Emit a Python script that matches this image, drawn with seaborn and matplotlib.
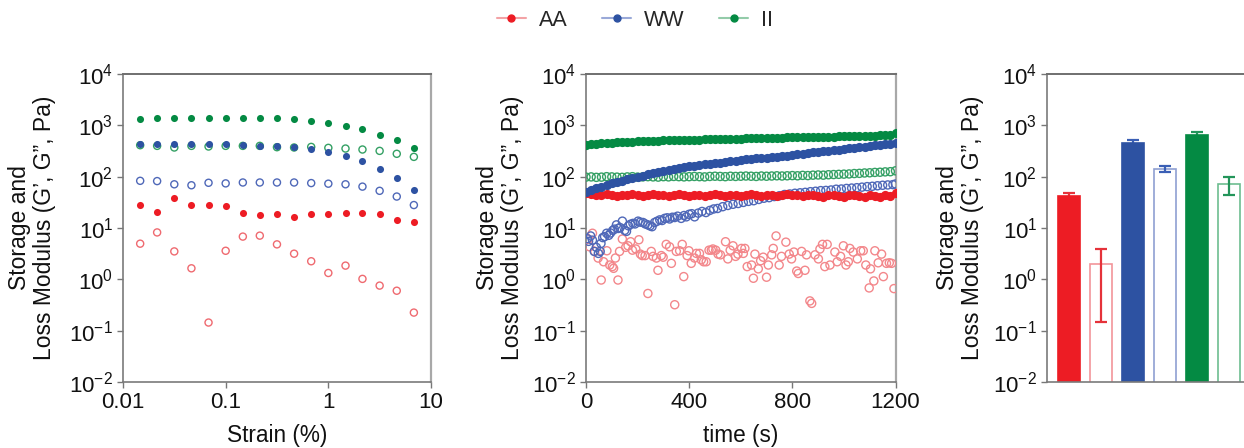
import matplotlib
matplotlib.use("Agg")
import matplotlib.pyplot as plt
from matplotlib.lines import Line2D
import seaborn as sns
import pandas as pd

sns.set_style("ticks")
plt.rcParams["font.family"] = ["Liberation Sans", "DejaVu Sans"]
plt.rcParams["mathtext.fontset"] = "custom"
plt.rcParams["mathtext.rm"] = "Liberation Sans"
plt.rcParams["mathtext.it"] = "Liberation Sans:italic"
plt.rcParams["mathtext.bf"] = "Liberation Sans:bold"
plt.rcParams["mathtext.default"] = "regular"

# ---------------- data ----------------
groups = ["AA", "WW", "II"]

# Panel A: strain sweep
strain_pct = [0.0147, 0.0215, 0.0316, 0.0464, 0.0681, 0.1, 0.147, 0.215, 0.316,
              0.464, 0.681, 1.0, 1.47, 2.15, 3.16, 4.64, 6.81]
aa_g1_strain = [28, 20.5, 38, 27.5, 27.5, 27, 20, 18, 18.7, 16.6, 18.7, 18.7, 19.8, 19.3, 18.7, 14.5, 12.9]
aa_g2_strain = [4.95, 8.2, 3.5, 1.64, 0.144, 3.6, 6.8, 7.1, 4.8, 3.16, 2.25, 1.33, 1.85, 1.02, 0.755, 0.60, 0.225]
ww_g1_strain = [435, 430, 430, 435, 442, 435, 423, 404, 393, 370, 343, 300, 255, 200, 144, 94, 55]
ww_g2_strain = [83, 82, 71, 68, 76, 74, 77, 77, 77, 77, 75, 73, 71, 64, 53, 41, 28]
ii_g1_strain = [1330, 1360, 1400, 1400, 1420, 1420, 1420, 1400, 1400, 1340, 1220, 1100, 960, 830, 660, 510, 355]
ii_g2_strain = [410, 398, 370, 398, 387, 398, 398, 398, 375, 370, 380, 364, 353, 338, 318, 279, 243]

# Panel B: time sweep
time_s = [0, 20, 40, 60, 80, 100, 120, 140, 160, 180, 200, 220, 240, 260, 280, 300, 320, 340,
          360, 380, 400, 420, 440, 460, 480, 500, 520, 540, 560, 580, 600, 620, 640, 660, 680,
          700, 720, 740, 760, 780, 800, 820, 840, 860, 880, 900, 920, 940, 960, 980, 1000,
          1020, 1040, 1060, 1080, 1100, 1120, 1140, 1160, 1180, 1200]
ii_g1_time = [415, 426, 434, 446, 451, 461, 465, 473, 476, 483, 486, 492, 494, 500, 502, 507, 509,
              514, 515, 520, 521, 526, 527, 532, 533, 538, 539, 544, 545, 550, 551, 556, 557, 562,
              563, 568, 569, 574, 575, 580, 581, 586, 587, 592, 593, 598, 599, 604, 605, 610, 611,
              616, 617, 622, 623, 628, 629, 634, 636, 642, 705]
ww_g1_time = [50, 55, 60, 64, 69, 74, 79, 84, 89, 95, 100, 105, 111, 117, 123, 129, 135, 141, 148,
              154, 161, 165, 169, 174, 178, 182, 188, 193, 199, 205, 211, 216, 221, 226, 231, 236,
              241, 247, 252, 258, 264, 272, 280, 289, 298, 307, 314, 322, 330, 338, 346, 355, 364,
              374, 384, 396, 405, 415, 425, 436, 452]
aa_g1_time = [47, 45, 44, 43, 45, 44, 42, 44, 43, 45, 44, 42, 43, 45, 44, 43, 42, 44, 45, 43, 42,
              44, 43, 42, 44, 45, 43, 42, 43, 44, 42, 43, 45, 44, 42, 43, 44, 42, 43, 45, 44, 43,
              42, 44, 43, 42, 41, 43, 44, 42, 41, 43, 44, 42, 41, 43, 42, 41, 43, 42, 48]
ii_g2_time = [98, 99, 97, 98, 100, 99, 98, 97, 99, 100, 98, 99, 100, 99, 98, 100, 99, 101, 100, 99,
              100, 101, 100, 99, 101, 102, 101, 100, 102, 101, 102, 103, 102, 101, 103, 102, 103,
              104, 103, 104, 105, 104, 106, 105, 107, 108, 107, 109, 110, 111, 112, 113, 115, 116,
              118, 119, 121, 122, 124, 125, 130]

ww_g2_t = [5, 10, 18, 25, 32, 40, 48, 55, 58, 65, 72, 80, 88, 95, 104, 110, 118, 125, 132, 141,
           150, 157, 165, 172, 182, 190, 202, 210, 221, 230, 240, 248, 256, 266, 275, 286, 295,
           305, 315, 324, 335, 344, 355, 369, 380, 389, 400, 410, 421, 435, 450, 465, 480, 495,
           510, 530, 550, 570, 590, 610, 630, 650, 670, 690, 710, 730, 750, 770, 790, 810, 830,
           850, 870, 890, 910, 930, 950, 970, 990, 1010, 1030, 1050, 1070, 1090, 1110, 1130,
           1150, 1170, 1190, 1200]
ww_g2_v = [6.2, 5.5, 7.0, 5.8, 3.5, 4.2, 3.2, 3.5, 5.0, 6.5, 6.8, 7.9, 7.2, 8.0, 9.0, 9.5, 11.5,
           9.8, 10.2, 13.6, 9.0, 8.6, 11.0, 11.8, 12.3, 12.0, 13.6, 13.0, 12.8, 12.0, 11.5, 11.0,
           10.6, 12.8, 13.5, 14.4, 14.0, 15.4, 15.8, 15.0, 16.2, 16.0, 17.0, 15.4, 17.5, 16.5,
           18.5, 19.0, 16.5, 19.5, 21.0, 20.0, 22.0, 23.5, 24.0, 26.0, 27.5, 29.0, 30.0, 31.5,
           33.0, 34.0, 36.0, 38.0, 39.0, 41.0, 42.5, 45.0, 46.0, 47.5, 48.5, 49.5, 51.0, 52.0,
           53.5, 54.0, 55.0, 57.0, 57.5, 59.0, 60.0, 61.0, 62.5, 64.0, 65.0, 66.5, 68.0, 69.0,
           70.0, 72.0]

aa_g2_t = [8, 14, 25, 34, 47, 59, 68, 81, 92, 102, 107, 114, 124, 130, 141, 154, 163, 173, 180,
           193, 205, 211, 218, 229, 240, 253, 260, 273, 279, 292, 299, 311, 324, 331, 344, 350,
           363, 373, 379, 392, 399, 408, 421, 428, 440, 447, 456, 466, 477, 486, 492, 503, 512,
           521, 541, 550, 559, 570, 580, 589, 603, 610, 616, 625, 642, 649, 655, 668, 677, 687,
           700, 707, 720, 726, 737, 749, 758, 775, 788, 797, 806, 817, 823, 836, 849, 855, 868,
           875, 888, 901, 907, 917, 926, 935, 946, 965, 974, 987, 998, 1008, 1017, 1023, 1036,
           1052, 1065, 1075, 1085, 1098, 1103, 1116, 1120, 1133, 1146, 1153, 1165, 1176, 1185,
           1194]
aa_g2_v = [6.1, 4.3, 7.9, 3.5, 2.6, 0.97, 2.2, 3.6, 1.9, 1.77, 1.64, 2.6, 0.97, 3.5, 6.1, 4.2,
           4.5, 5.4, 3.7, 3.9, 5.9, 3.1, 2.9, 2.9, 0.53, 3.5, 2.8, 2.6, 1.5, 2.9, 2.7, 4.8, 4.3,
           2.05, 0.32, 3.5, 3.6, 4.8, 1.13, 2.9, 3.6, 2.05, 2.6, 3.2, 3.2, 2.4, 2.2, 2.2, 3.7,
           3.7, 3.9, 3.7, 3.1, 3.0, 5.4, 2.5, 3.7, 4.5, 2.8, 3.1, 4.0, 3.2, 4.0, 1.77, 1.9, 1.05,
           3.1, 1.6, 2.3, 2.7, 1.1, 1.9, 3.0, 4.0, 7.0, 1.9, 2.8, 5.3, 3.1, 2.5, 3.4, 1.45, 1.3,
           3.5, 1.5, 3.0, 0.38, 0.34, 3.0, 2.5, 3.9, 4.8, 1.77, 4.8, 1.9, 3.4, 2.2, 2.8, 4.5,
           1.9, 2.2, 4.0, 3.4, 2.5, 3.6, 3.6, 1.9, 0.68, 1.6, 0.93, 3.6, 2.1, 3.1, 1.13, 2.05,
           2.1, 2.05, 0.66]

# Panel C: mean moduli
bar_labels = ["AA G'", "AA G''", "WW G'", "WW G''", "II G'", "II G''"]
bar_values = [42.5, 2.0, 450, 142, 650, 72]
bar_errors = [5, 1.85, 60, 20, 100, 28]

# ---------------- style ----------------
c_red, c_blue, c_green = "#ED1C24", "#2D52A2", "#048A43"
h_red, h_blue, h_green = "#EF6A70", "#4F68B8", "#34A064"
h_red_t = "#F3878B"
bar_face = [c_red, "white", c_blue, "white", c_green, "white"]
bar_edge = [c_red, "#F2959A", c_blue, "#8FA0D2", c_green, "#6DBD90"]
err_col = ["#E5323A", "#E5323A", "#3A5FB5", "#3A5FB5", "#23955A", "#23955A"]

ylabel = "Storage and\nLoss Modulus (G\u2019, G\u201d, Pa)"
W, H = 1244, 448
fig = plt.figure(figsize=(W / 100, H / 100), dpi=100)


def px_axes(left, right, top=74, bottom=382):
    return fig.add_axes([left / W, 1 - bottom / H, (right - left) / W, (bottom - top) / H])


ax1 = px_axes(123, 431)
ax2 = px_axes(586, 895.5)
ax3 = px_axes(1047, 1244)


def scat(ax, x, y, col, hollow, s):
    sns.scatterplot(x=x, y=y, ax=ax, color=col, s=s, linewidth=0, legend=False, zorder=3)
    coll = ax.collections[-1]
    if hollow:
        coll.set_facecolor("none")
        coll.set_edgecolor(col)
        coll.set_linewidth(1.0)


ax1.set_xscale("log")
ax1.set_yscale("log")
ax2.set_yscale("log")

# Panel A
scat(ax1, strain_pct, ii_g2_strain, h_green, True, 26)
scat(ax1, strain_pct, ww_g2_strain, h_blue, True, 26)
scat(ax1, strain_pct, aa_g2_strain, h_red, True, 26)
scat(ax1, strain_pct, ii_g1_strain, c_green, False, 26)
scat(ax1, strain_pct, ww_g1_strain, c_blue, False, 26)
scat(ax1, strain_pct, aa_g1_strain, c_red, False, 26)

# Panel B
scat(ax2, aa_g2_t, aa_g2_v, h_red_t, True, 34)
scat(ax2, ww_g2_t, ww_g2_v, h_blue, True, 34)
scat(ax2, time_s, ii_g2_time, h_green, True, 34)
scat(ax2, time_s, aa_g1_time, c_red, False, 44)
scat(ax2, time_s, ww_g1_time, c_blue, False, 44)
scat(ax2, time_s, ii_g1_time, c_green, False, 44)

# Panel C
sns.barplot(x=bar_labels, y=bar_values, hue=bar_labels, palette=bar_face, width=0.67,
            saturation=1, errorbar=None, legend=False, ax=ax3, zorder=2)
ax3.set_yscale("log")
for i, p in enumerate(ax3.patches):
    p.set_facecolor(bar_face[i])
    p.set_edgecolor(bar_edge[i])
    p.set_linewidth(1.2)
for i in range(len(bar_values)):
    ax3.errorbar(i, bar_values[i], yerr=bar_errors[i], fmt="none", ecolor=err_col[i],
                 elinewidth=1.6, capsize=4.5, capthick=1.6, zorder=1.5 if i % 2 == 0 else 3)
ax3.set_xlim(-0.6875, 5.47)
ax3.set_xticks([])
ax3.set_xlabel("")

# axes formatting
ticks_y = [1e-2, 1e-1, 1, 10, 100, 1e3, 1e4]
for ax in (ax1, ax2, ax3):
    ax.set_ylim(1e-2, 1e4)
    ax.set_yticks(ticks_y)
    ax.set_yticklabels([r"$10^{%d}$" % e for e in range(-2, 5)])
    ax.minorticks_off()
    ax.tick_params(axis="both", which="major", direction="out", length=4, width=1,
                   color="#777777", labelsize=16, pad=3, labelcolor="#111111")
    ax.set_ylabel(ylabel, fontsize=16.5, color="#111111", linespacing=1.12)
    for side in ("left", "bottom"):
        ax.spines[side].set_color("#7a7a7a")
        ax.spines[side].set_linewidth(1.2)
    ax.spines["top"].set_color("#6f6f6f")
    ax.spines["top"].set_linewidth(1.4)
    ax.spines["right"].set_color("#a8a8a8")
    ax.spines["right"].set_linewidth(1.6)
    ax.set_facecolor("white")

ax3.spines["right"].set_visible(False)
ax3.tick_params(axis="x", length=0)

ax1.set_xlim(0.01, 10)
ax1.set_xticks([0.01, 0.1, 1, 10])
ax1.set_xticklabels(["0.01", "0.1", "1", "10"])
ax1.minorticks_off()
ax1.set_xlabel("Strain (%)", fontsize=16.3, color="#111111", labelpad=8)

ax2.set_xlim(0, 1200)
ax2.set_xticks([0, 400, 800, 1200])
ax2.set_xticklabels(["0", "400", "800", "1200"])
ax2.set_xlabel("time (s)", fontsize=16.3, color="#111111", labelpad=8)

ax1.yaxis.set_label_coords((56 - 123) / 308, 0.5)
ax2.yaxis.set_label_coords((524 - 586) / 309.5, 0.5)
ax3.yaxis.set_label_coords((984 - 1047) / 197, 0.5)

# legend
handles = [
    Line2D([], [], color="#F3A3A6", lw=1.5, marker="o", markersize=5,
           markerfacecolor=c_red, markeredgecolor=c_red),
    Line2D([], [], color="#9AA9D8", lw=1.5, marker="o", markersize=5,
           markerfacecolor=c_blue, markeredgecolor=c_blue),
    Line2D([], [], color="#93CBA9", lw=1.5, marker="o", markersize=5,
           markerfacecolor=c_green, markeredgecolor=c_green),
]
fig.legend(handles, groups, loc="center", bbox_to_anchor=(635 / W, 1 - 20 / H), ncol=3,
           frameon=False, fontsize=15.5, handlelength=1.35, columnspacing=1.6,
           handletextpad=0.6, borderaxespad=0)

fig.savefig("out.png", dpi=100)
